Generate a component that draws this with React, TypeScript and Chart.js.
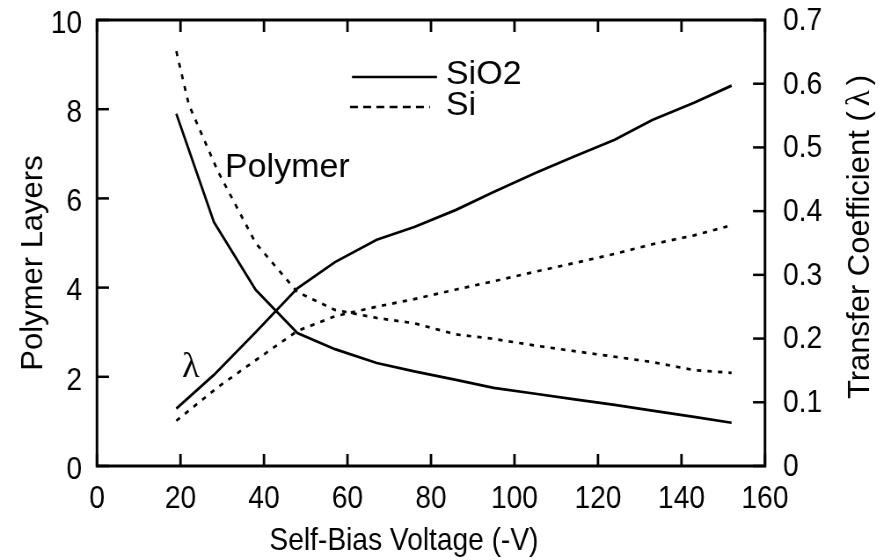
import React, { useEffect, useRef } from "react";
import { Chart, registerables } from "chart.js";

Chart.register(...registerables);

// ---- data ----
const sio2Voltage = [19, 28, 38, 48, 57, 67, 76, 86, 95, 105, 114, 124, 133, 143, 152];
const sio2Polymer = [7.9, 5.47, 3.95, 2.98, 2.62, 2.31, 2.12, 1.93, 1.75, 1.62, 1.5, 1.37, 1.24, 1.1, 0.97];
const sio2Lambda = [0.09, 0.143, 0.21, 0.279, 0.32, 0.355, 0.375, 0.402, 0.43, 0.46, 0.485, 0.512, 0.543, 0.57, 0.597];

const siPolymerVoltage = [19, 22, 29, 38, 48, 57, 67, 76, 86, 95, 105, 114, 124, 133, 143, 152];
const siPolymer = [9.3, 8.1, 6.6, 5.0, 3.9, 3.5, 3.32, 3.2, 2.95, 2.85, 2.7, 2.58, 2.45, 2.33, 2.15, 2.09];
const siLambdaVoltage = [19, 29, 38, 48, 57, 67, 76, 86, 95, 105, 114, 124, 133, 143, 151];
const siLambda = [0.071, 0.124, 0.166, 0.212, 0.235, 0.25, 0.262, 0.277, 0.29, 0.305, 0.318, 0.333, 0.348, 0.362, 0.376];

const xTicks = [0, 20, 40, 60, 80, 100, 120, 140, 160];
const leftTicks = [0, 2, 4, 6, 8, 10];
const rightTicks = [0, 0.1, 0.2, 0.3, 0.4, 0.5, 0.6, 0.7];
const rightTickLabels = ["0", "0.1", "0.2", "0.3", "0.4", "0.5", "0.6", "0.7"];

const xTitle = "Self-Bias Voltage (-V)";
const leftTitle = "Polymer Layers";
const rightTitleMain = "Transfer Coefficient (";
const rightTitleSym = "\u03BB";
const rightTitleEnd = ")";
const legendLabels = ["SiO2", "Si"];
const polymerNote = "Polymer";
const lambdaNote = "\u03BB";

// ---- layout ----
const CSS_W = 891;
const CSS_H = 560;
const LOG_W = 1013;
const K = CSS_W / LOG_W;
const lx = (px: number) => px / K;
const SANS = "'Liberation Sans', Arial, Helvetica, sans-serif";
const SERIF = "'Liberation Serif', 'Times New Roman', serif";
const FS = 32;
const LINE_DASH = [5, 7];

const toPts = (xs: number[], ys: number[]) => xs.map((x, i) => ({ x, y: ys[i] }));

const decorPlugin = {
  id: "decor",
  afterDatasetsDraw(chart: any) {
    const { ctx, chartArea: a, scales } = chart;
    const line = (x1: number, y1: number, x2: number, y2: number) => {
      ctx.beginPath();
      ctx.moveTo(x1, y1);
      ctx.lineTo(x2, y2);
      ctx.stroke();
    };
    // text drawn at CSS (unsquashed) width
    const wideText = (text: string, xCss: number, y: number, font: string) => {
      ctx.save();
      ctx.translate(lx(xCss), y);
      ctx.scale(1 / K, 1);
      ctx.font = font;
      ctx.textAlign = "left";
      ctx.textBaseline = "alphabetic";
      ctx.fillText(text, 0, 0);
      ctx.restore();
    };
    ctx.save();
    ctx.strokeStyle = "#000";
    ctx.fillStyle = "#000";
    ctx.setLineDash([]);
    // ticks (inward)
    ctx.lineWidth = 2.8;
    for (const v of xTicks) {
      const px = scales.x.getPixelForValue(v);
      line(px, a.bottom, px, a.bottom - 12);
      line(px, a.top, px, a.top + 12);
    }
    ctx.lineWidth = 2.5;
    for (const v of leftTicks) {
      const py = scales.y.getPixelForValue(v);
      line(a.left, py, a.left + lx(12), py);
    }
    for (const v of rightTicks) {
      const py = scales.y1.getPixelForValue(v);
      line(a.right, py, a.right - lx(12), py);
    }
    // frame
    ctx.lineWidth = 3;
    ctx.strokeRect(a.left, a.top, a.right - a.left, a.bottom - a.top);

    // legend
    ctx.lineWidth = 2.6;
    line(lx(352), 77, lx(437), 77);
    ctx.setLineDash([9, 6]);
    line(lx(350), 107, lx(430), 107);
    ctx.setLineDash([]);
    wideText(legendLabels[0], 446, 84, `34px ${SANS}`);
    wideText(legendLabels[1], 446, 115, `34px ${SANS}`);

    // annotations
    wideText(polymerNote, 225, 177, `34px ${SANS}`);
    wideText(lambdaNote, 182, 377, `36px ${SERIF}`);

    // x title
    ctx.font = `${FS}px ${SANS}`;
    ctx.textAlign = "center";
    ctx.textBaseline = "alphabetic";
    ctx.fillText(xTitle, lx(404), 550);

    // left title (rotated, drawn in CSS pixel space)
    ctx.save();
    ctx.translate(lx(42), 263);
    ctx.scale(1 / K, 1);
    ctx.rotate(-Math.PI / 2);
    ctx.font = `31px ${SANS}`;
    ctx.textAlign = "center";
    ctx.fillText(leftTitle, 0, 0);
    ctx.restore();

    // right title (rotated, drawn in CSS pixel space)
    ctx.save();
    ctx.translate(lx(869), 237);
    ctx.scale(1 / K, 1);
    ctx.rotate(-Math.PI / 2);
    ctx.textAlign = "left";
    const mainFont = `31px ${SANS}`;
    const symFont = `33px ${SERIF}`;
    ctx.font = mainFont;
    const w1 = ctx.measureText(rightTitleMain).width;
    const w3 = ctx.measureText(rightTitleEnd).width;
    ctx.font = symFont;
    const gap = 5;
    const w2 = ctx.measureText(rightTitleSym).width + gap * 2;
    const total = w1 + w2 + w3;
    let cx = -total / 2;
    ctx.font = mainFont;
    ctx.fillText(rightTitleMain, cx, 0);
    cx += w1;
    ctx.font = symFont;
    ctx.fillText(rightTitleSym, cx + gap, 0);
    cx += w2;
    ctx.font = mainFont;
    ctx.fillText(rightTitleEnd, cx, 0);
    ctx.restore();

    ctx.restore();
  },
};

const noVPad = (s: any) => { s.paddingTop = 0; s.paddingBottom = 0; };

export default function App() {
  const ref = useRef<HTMLCanvasElement | null>(null);
  useEffect(() => {
    const canvas = ref.current;
    if (!canvas) return;
    const tickFont = { family: SANS, size: FS };
    const chart = new Chart(canvas, {
      type: "line",
      data: {
        datasets: [
          { label: "SiO2 polymer", data: toPts(sio2Voltage, sio2Polymer), yAxisID: "y" },
          { label: "SiO2 lambda", data: toPts(sio2Voltage, sio2Lambda), yAxisID: "y1" },
          { label: "Si polymer", data: toPts(siPolymerVoltage, siPolymer), yAxisID: "y", borderDash: LINE_DASH },
          { label: "Si lambda", data: toPts(siLambdaVoltage, siLambda), yAxisID: "y1", borderDash: LINE_DASH },
        ].map((d) => ({
          ...d,
          borderColor: "#000",
          backgroundColor: "#000",
          borderWidth: 2.7,
          pointRadius: 0,
          tension: 0,
          fill: false,
        })),
      },
      options: {
        responsive: false,
        animation: false,
        devicePixelRatio: 1,
        layout: { padding: { top: 20, left: 0, right: 0, bottom: 0 } },
        plugins: { legend: { display: false }, tooltip: { enabled: false } },
        scales: {
          x: {
            type: "linear",
            min: 0,
            max: 160,
            grid: { display: false, drawTicks: false },
            border: { display: false },
            ticks: { font: tickFont, color: "#000", padding: 14, maxRotation: 0, autoSkip: false },
            afterBuildTicks: (s: any) => { s.ticks = xTicks.map((v) => ({ value: v })); },
            afterFit: (s: any) => { s.height = 94; s.paddingLeft = 0; s.paddingRight = 0; },
          },
          y: {
            type: "linear",
            position: "left",
            min: 0,
            max: 10,
            grid: { display: false, drawTicks: false },
            border: { display: false },
            ticks: { font: tickFont, color: "#000", padding: lx(15), labelOffset: 4, autoSkip: false },
            afterBuildTicks: (s: any) => { s.ticks = leftTicks.map((v) => ({ value: v })); },
            afterFit: (s: any) => { s.width = lx(97); noVPad(s); },
          },
          y1: {
            type: "linear",
            position: "right",
            min: 0,
            max: 0.7,
            grid: { display: false, drawTicks: false },
            border: { display: false },
            ticks: {
              font: tickFont,
              color: "#000",
              padding: lx(18),
              labelOffset: 1,
              autoSkip: false,
              callback: (v: any) => {
                const i = rightTicks.findIndex((t) => Math.abs(t - Number(v)) < 1e-9);
                return i >= 0 ? rightTickLabels[i] : "";
              },
            },
            afterBuildTicks: (s: any) => { s.ticks = rightTicks.map((v) => ({ value: v })); },
            afterFit: (s: any) => { s.width = LOG_W - lx(765); noVPad(s); },
          },
        },
      } as any,
      plugins: [decorPlugin],
    });
    return () => chart.destroy();
  }, []);
  return (
    <canvas
      ref={ref}
      width={LOG_W}
      height={CSS_H}
      style={{ position: "absolute", left: 0, top: 0, width: `${CSS_W}px`, height: `${CSS_H}px`, background: "#fff" }}
    />
  );
}
